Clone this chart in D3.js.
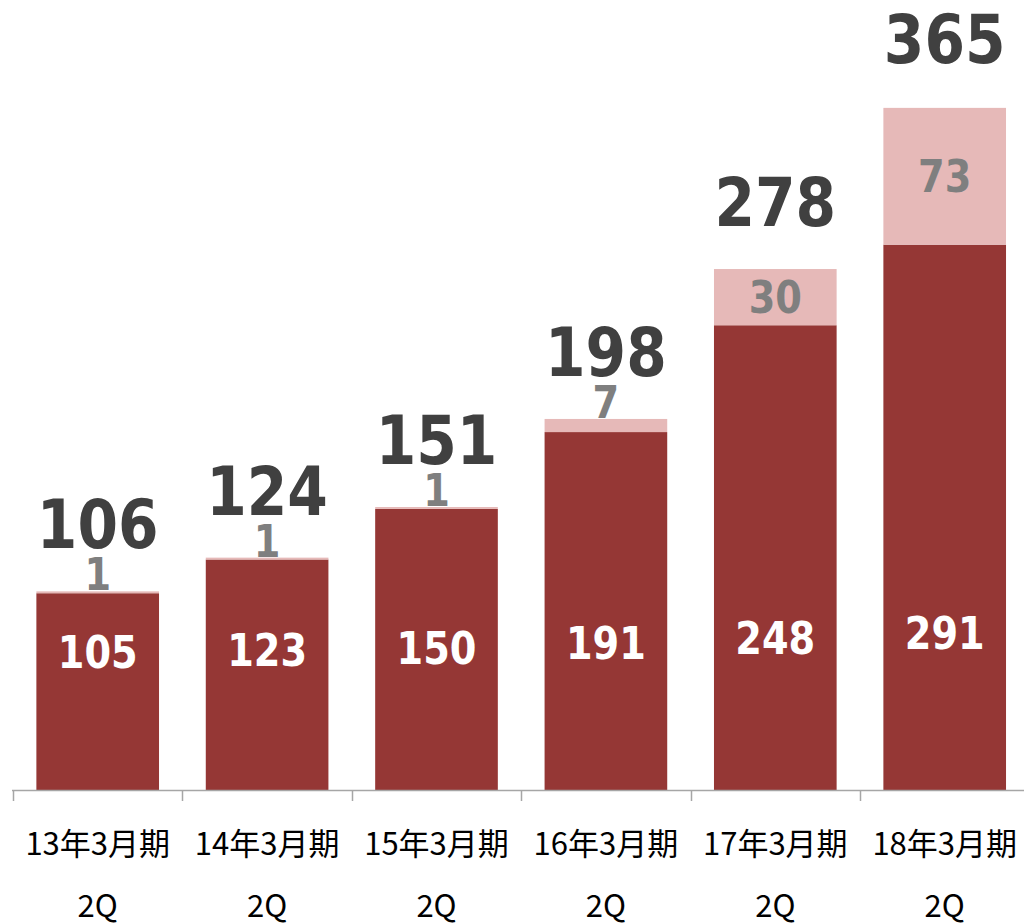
<!DOCTYPE html>
<html>
<head>
<meta charset="utf-8">
<script src="https://cdn.jsdelivr.net/npm/d3@7"></script>
<style>
  html, body { margin: 0; padding: 0; background: #fff; }
  svg { display: block; }
</style>
</head>
<body>
<svg id="chart" width="1024" height="924"></svg>
<script>
// ---- data ----
const categories = ["13年3月期", "14年3月期", "15年3月期", "16年3月期", "17年3月期", "18年3月期"];
const subLabel = ["2Q", "2Q", "2Q", "2Q", "2Q", "2Q"];
const baseValues = [105, 123, 150, 191, 248, 291];
const addValues = [1, 1, 1, 7, 30, 73];
const totalValues = [106, 124, 151, 198, 278, 365];

// ---- layout ----
const W = 1024, H = 924;
const baseY = 790;
const svg = d3.select("#chart");

const x = d3.scaleBand()
  .domain(categories)
  .range([13, 13 + 6 * 169.4])
  .paddingInner(0.276)
  .paddingOuter(0.138);

const y = d3.scaleLinear().domain([0, 365]).range([baseY, 106]);

const colBase = "#953735";
const colAdd = "#E6B9B8";
const sx = 0.87;

const rows = categories.map((c, i) => ({
  cat: c, sub: subLabel[i], base: baseValues[i], add: addValues[i], total: totalValues[i]
}));

// bars
svg.append("g").selectAll("rect.base").data(rows).join("rect")
  .attr("x", d => x(d.cat)).attr("width", x.bandwidth())
  .attr("y", d => y(d.base)).attr("height", d => y(0) - y(d.base))
  .attr("fill", colBase);

svg.append("g").selectAll("rect.add").data(rows).join("rect")
  .attr("x", d => x(d.cat)).attr("width", x.bandwidth())
  .attr("y", d => y(d.base + d.add)).attr("height", d => y(d.base) - y(d.base + d.add))
  .attr("fill", colAdd);

// axis
const axisCol = "#a6a6a6";
const ax = svg.append("g");
ax.append("line").attr("x1", x.range()[0] - 1).attr("x2", W).attr("y1", baseY + 0.5).attr("y2", baseY + 0.5)
  .attr("stroke", axisCol).attr("stroke-width", 1.5);
const edge = d => x(d) - x.step() * x.paddingOuter();
ax.selectAll("line.tick").data(categories).join("line")
  .attr("x1", d => Math.round(edge(d)) + 0.5).attr("x2", d => Math.round(edge(d)) + 0.5)
  .attr("y1", baseY).attr("y2", baseY + 11)
  .attr("stroke", axisCol).attr("stroke-width", 1.5);

// category labels
const cx = d => x(d) + x.bandwidth() / 2;
const catFont = "'Noto Sans CJK JP', 'Noto Sans', sans-serif";
svg.append("g").selectAll("text").data(rows).join("text")
  .attr("x", d => cx(d.cat)).attr("y", 855)
  .attr("text-anchor", "middle").attr("font-family", catFont).attr("font-size", 31)
  .attr("fill", "#000").text(d => d.cat);
svg.append("g").selectAll("text").data(rows).join("text")
  .attr("x", d => cx(d.cat)).attr("y", 917)
  .attr("text-anchor", "middle").attr("font-family", catFont).attr("font-size", 31)
  .attr("fill", "#000").text(d => d.sub);

const numFont = "'DejaVu Sans', Verdana, sans-serif";

// inside labels (base)
svg.append("g").selectAll("text").data(rows).join("text")
  .attr("transform", d => {
    const h = y(0) - y(d.base);
    const c = baseY - 127 - 0.0545 * h;
    return `translate(${cx(d.cat)},${c + 16}) scale(${sx},1)`;
  })
  .attr("text-anchor", "middle").attr("font-family", numFont).attr("font-weight", "bold")
  .attr("font-size", 44).attr("fill", "#fff").text(d => d.base);

// add labels
svg.append("g").selectAll("text").data(rows).join("text")
  .attr("transform", d => {
    const top = y(d.base + d.add), bot = y(d.base);
    let by;
    if (bot - top > 40) by = (top + bot) / 2 + 16;
    else by = top - 1;
    return `translate(${cx(d.cat)},${by}) scale(${sx},1)`;
  })
  .attr("text-anchor", "middle").attr("font-family", numFont).attr("font-weight", "bold")
  .attr("font-size", 44).attr("fill", "#7f7f7f").text(d => d.add);

// totals
svg.append("g").selectAll("text").data(rows).join("text")
  .attr("transform", d => `translate(${cx(d.cat)},${y(d.total) - 43}) scale(${sx},1)`)
  .attr("text-anchor", "middle").attr("font-family", numFont).attr("font-weight", "bold")
  .attr("font-size", 67).attr("fill", "#404040").text(d => d.total);
</script>
</body>
</html>
